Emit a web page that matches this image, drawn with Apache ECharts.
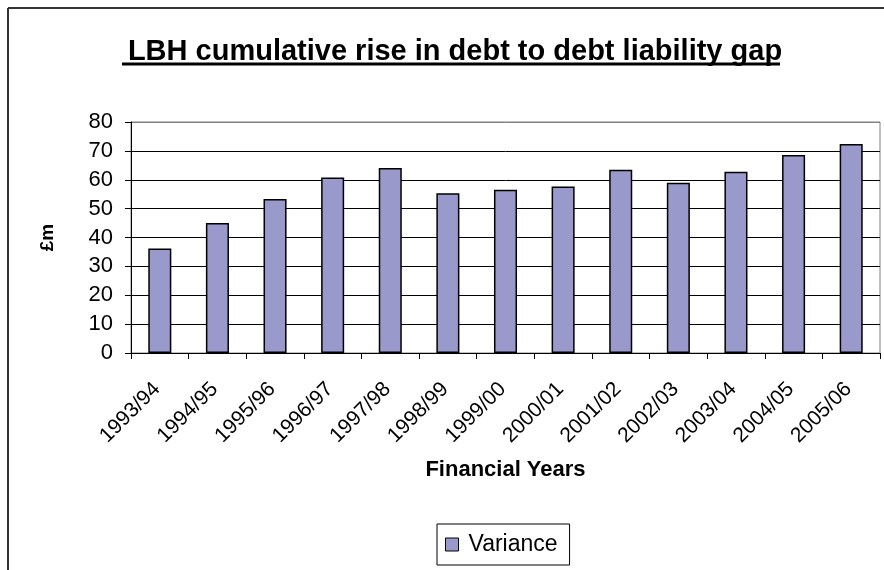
<!DOCTYPE html>
<html>
<head>
<meta charset="utf-8">
<script src="https://cdn.jsdelivr.net/npm/echarts@6/dist/echarts.min.js"></script>
<style>
html,body{margin:0;padding:0;background:#fff;}
#chart{width:884px;height:570px;}
</style>
</head>
<body>
<div id="chart"></div>
<script>
const categories = ['1993/94','1994/95','1995/96','1996/97','1997/98','1998/99','1999/00','2000/01','2001/02','2002/03','2003/04','2004/05','2005/06'];
const variance = [36.2, 45.0, 53.3, 60.8, 64.1, 55.3, 56.5, 57.7, 63.5, 59.0, 62.8, 68.6, 72.4];
const yTicks = [0, 10, 20, 30, 40, 50, 60, 70, 80];
const seriesName = 'Variance';
const titleText = 'LBH cumulative rise in debt to debt liability gap';

const chart = echarts.init(document.getElementById('chart'), null, {renderer: 'canvas'});
const fontFam = '"Liberation Sans", Arial, sans-serif';
const splitColors = yTicks.map((v, i) => i === yTicks.length - 1 ? '#808080' : '#000');

chart.setOption({
  animation: false,
  backgroundColor: '#fff',
  title: {
    text: titleText,
    left: 450,
    top: 32,
    textAlign: 'center',
    textStyle: {fontFamily: fontFam, fontWeight: 'bold', fontSize: 29, color: '#000'}
  },
  graphic: [
    {type: 'line', shape: {x1: 8, y1: 8, x2: 884, y2: 8}, style: {stroke: '#333', lineWidth: 2}},
    {type: 'line', shape: {x1: 8, y1: 8, x2: 8, y2: 570}, style: {stroke: '#333', lineWidth: 2}},
    {type: 'line', shape: {x1: 122, y1: 64, x2: 780, y2: 64}, style: {stroke: '#000', lineWidth: 3}}
  ],
  grid: {left: 131, right: 4, top: 122, bottom: 217, show: true, borderColor: '#808080', borderWidth: 1, containLabel: false},
  legend: {
    data: [seriesName],
    left: 437,
    top: 524,
    padding: [9, 12, 9, 8],
    borderColor: '#000',
    borderWidth: 1,
    borderRadius: 0,
    icon: 'rect',
    itemWidth: 13,
    itemHeight: 13,
    itemGap: 8,
    itemStyle: {borderColor: '#000', borderWidth: 1},
    textStyle: {fontFamily: fontFam, fontSize: 23, color: '#000', padding: [0, 0, 0, 5]}
  },
  xAxis: {
    type: 'category',
    data: categories,
    name: 'Financial Years',
    nameLocation: 'middle',
    nameGap: 106,
    nameTextStyle: {fontFamily: fontFam, fontWeight: 'bold', fontSize: 22, color: '#000'},
    axisLine: {lineStyle: {color: '#000', width: 1}},
    axisTick: {show: true, alignWithLabel: false, length: 6, lineStyle: {color: '#000'}},
    axisLabel: {rotate: 45, margin: 30, padding: [0, 4, 0, 0], fontFamily: fontFam, fontSize: 21, color: '#000', interval: 0},
    splitLine: {show: false}
  },
  yAxis: {
    type: 'value',
    min: 0,
    max: 80,
    interval: 10,
    name: '£m',
    nameLocation: 'middle',
    nameRotate: 90,
    nameGap: 74,
    nameTextStyle: {fontFamily: fontFam, fontWeight: 'bold', fontSize: 19, color: '#000'},
    axisLine: {show: true, lineStyle: {color: '#000', width: 1}},
    axisTick: {show: true, length: 6, lineStyle: {color: '#000'}},
    axisLabel: {margin: 18, fontFamily: fontFam, fontSize: 22, color: '#000'},
    splitLine: {show: true, lineStyle: {color: splitColors, width: 1}}
  },
  series: [{
    name: seriesName,
    type: 'bar',
    data: variance,
    barWidth: '40%',
    itemStyle: {color: '#9999CC', borderColor: '#000', borderWidth: 1.5}
  }]
});
</script>
</body>
</html>
